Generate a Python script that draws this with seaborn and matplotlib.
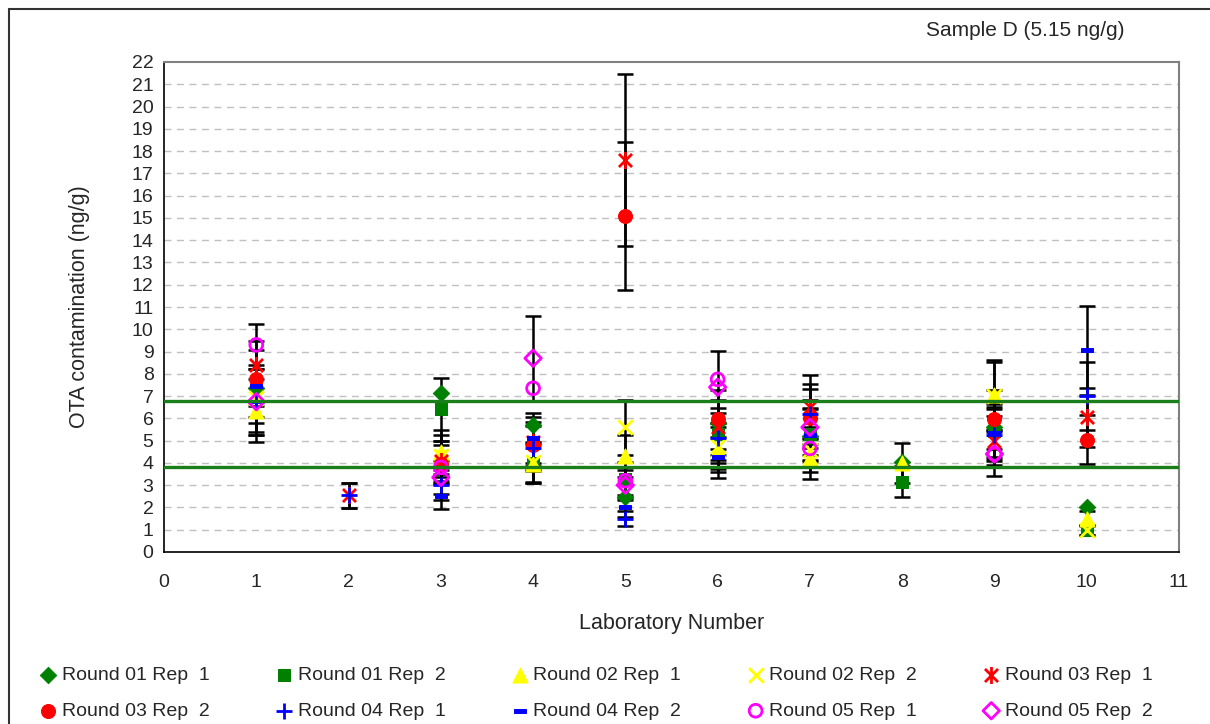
import numpy as np
import pandas as pd
import matplotlib
matplotlib.use("Agg")
import matplotlib.pyplot as plt
from matplotlib.path import Path
from matplotlib.lines import Line2D
import seaborn as sns

nan = np.nan
labs = [1, 2, 3, 4, 5, 6, 7, 8, 9, 10]
series_names = ["Round 01 Rep  1", "Round 01 Rep  2", "Round 02 Rep  1", "Round 02 Rep  2",
                "Round 03 Rep  1", "Round 03 Rep  2", "Round 04 Rep  1", "Round 04 Rep  2",
                "Round 05 Rep  1", "Round 05 Rep  2"]
r01_rep1 = [7.35, nan, 7.15, 5.7, 2.45, 5.8, 5.2, 4.05, 5.6, 2.0]
r01_rep2 = [nan, nan, 6.4, 4.0, 3.3, 5.3, 5.3, 3.15, 5.45, 1.0]
r02_rep1 = [6.35, nan, 4.5, 3.95, 4.3, 4.6, 4.2, 4.0, 7.05, 1.5]
r02_rep2 = [6.9, nan, 4.3, 4.05, 5.6, 4.75, 4.6, nan, 7.0, 1.0]
r03_rep1 = [8.4, 2.55, 4.1, 4.95, 17.6, 5.6, 6.5, nan, 5.0, 6.05]
r03_rep2 = [7.75, nan, 3.95, 4.8, 15.1, 5.95, 6.0, nan, 5.95, 5.05]
r04_rep1 = [6.75, 2.55, 3.0, 4.65, 1.5, 5.1, 6.2, nan, 5.25, 7.0]
r04_rep2 = [7.45, nan, 2.5, 5.1, 2.0, 4.25, 5.25, nan, 5.35, 9.05]
r05_rep1 = [9.3, nan, 3.8, 7.35, 3.2, 7.75, 4.65, nan, 4.4, nan]
r05_rep2 = [6.75, nan, 3.35, 8.7, 3.0, 7.4, 5.6, nan, 4.4, nan]
all_values = [r01_rep1, r01_rep2, r02_rep1, r02_rep2, r03_rep1,
              r03_rep2, r04_rep1, r04_rep2, r05_rep1, r05_rep2]
# series that carry error bars (percentage error)
has_err = [False, True, True, True, True, True, True, True, False, True]
err_frac = 0.22
limit_lines = [6.77, 3.81]

green, yellow, red, blue, magenta = "#008000", "#FFFF00", "#FF0000", "#0000FF", "#FF00FF"

star = Path([(-1, -1), (1, 1), (-1, 1), (1, -1), (0, -1.3), (0, 1.3)],
            [Path.MOVETO, Path.LINETO, Path.MOVETO, Path.LINETO, Path.MOVETO, Path.LINETO])
dash = Path([(-1, -0.4), (1, -0.4), (1, 0.4), (-1, 0.4), (-1, -0.4)],
            [Path.MOVETO, Path.LINETO, Path.LINETO, Path.LINETO, Path.CLOSEPOLY])

styles = [
    dict(marker="D", color=green, edgecolor=green, s=70),
    dict(marker="s", color=green, edgecolor=green, s=85),
    dict(marker="^", color=yellow, edgecolor=yellow, s=115),
    dict(marker="x", color=yellow, linewidth=2, s=110),
    dict(marker=star, color=red, edgecolor=red, linewidth=2, s=150),
    dict(marker="o", color=red, edgecolor=red, s=100),
    dict(marker="+", color=blue, linewidth=2, s=140),
    dict(marker=dash, color=blue, edgecolor=blue, s=75),
    dict(marker="o", color=magenta, facecolor="none", edgecolor=magenta, linewidth=2, s=85),
    dict(marker="D", color=magenta, facecolor="none", edgecolor=magenta, linewidth=2, s=70),
]

sns.set_style("white")
plt.rcParams["font.family"] = ["Liberation Sans", "DejaVu Sans"]

fig = plt.figure(figsize=(12.1, 7.24), dpi=100)
ax = fig.add_axes([164 / 1210, 1 - 552 / 724, (1179 - 164) / 1210, (552 - 62) / 724])

for y in range(1, 22):
    ax.axhline(y, color="#c0c0c0", lw=1, ls=(0, (5, 4)), zorder=0)

for vals, e in zip(all_values, has_err):
    if e:
        v = np.array(vals)
        ax.errorbar(labs, v, yerr=v * err_frac, fmt="none", ecolor="black",
                    elinewidth=1.8, capsize=6, capthick=1.8, zorder=2)

for yv in limit_lines:
    ax.axhline(yv, color="#1a7f1a", lw=2.4, zorder=4)

handles = []
for name, vals, st in zip(series_names, all_values, styles):
    df = pd.DataFrame({"lab": labs, "value": vals}).dropna()
    sns.scatterplot(data=df, x="lab", y="value", ax=ax, label=name, zorder=3,
                    legend=False, **st)
    handles.append(ax.collections[-1])

ax.set_xlim(0, 11)
ax.set_ylim(0, 22)
ax.set_xticks(range(0, 12))
ax.set_yticks(range(0, 23))
ax.tick_params(axis="both", labelsize=14, direction="inout", length=8, width=1, color="black")
ax.tick_params(axis="x", pad=12)
ax.set_xlabel("Laboratory Number", fontsize=15.5, labelpad=16)
ax.set_ylabel("OTA contamination (ng/g)", fontsize=15.5, labelpad=30)
for side in ["left", "bottom"]:
    ax.spines[side].set_color("black")
    ax.spines[side].set_linewidth(1.2)
for side in ["top", "right"]:
    ax.spines[side].set_color("#808080")
    ax.spines[side].set_linewidth(1.5)

fig.text(1025 / 1210, 1 - 30 / 724, "Sample D (5.15 ng/g)", fontsize=15, ha="center", va="center")

order = [0, 5, 1, 6, 2, 7, 3, 8, 4, 9]
fig.legend([handles[i] for i in order], [series_names[i] for i in order],
           ncol=5, loc="lower left", bbox_to_anchor=(0.024, -0.005, 0.935, 0.1), mode="expand",
           frameon=False, fontsize=14, handletextpad=0.1, handlelength=1.2,
           labelspacing=0.95, borderaxespad=0)

fig.add_artist(Line2D([9 / 1210, 9 / 1210], [0, 1 - 9 / 724], color="#333333", lw=1.5))
fig.add_artist(Line2D([9 / 1210, 1], [1 - 9 / 724, 1 - 9 / 724], color="#333333", lw=1.5))

fig.savefig("out.png", dpi=100)
